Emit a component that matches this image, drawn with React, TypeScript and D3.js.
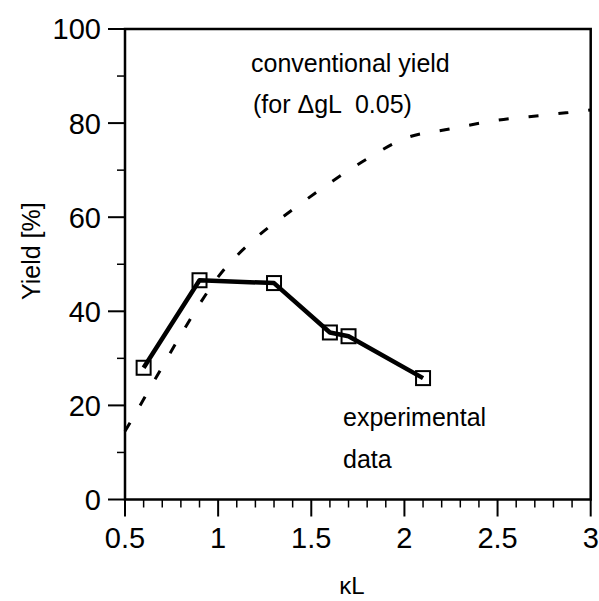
import React from "react";
import * as d3 from "d3";

const expX = [0.6, 0.9, 1.3, 1.6, 1.7, 2.1];
const expY = [28, 46.6, 46.0, 35.5, 34.7, 25.8];

const convX = [0.5, 0.6, 0.7, 0.8, 0.9, 1.0, 1.2, 1.4, 1.6, 1.8, 2.0, 2.25, 2.5, 2.75, 3.0];
const convY = [14.5, 21.3, 28.2, 35, 41.5, 47.3, 55.5, 61.6, 67.3, 72.4, 76.7, 78.8, 80.6, 81.7, 82.8];

const xTicks = [0.5, 1, 1.5, 2, 2.5, 3];
const xTickLabels = ["0.5", "1", "1.5", "2", "2.5", "3"];
const yTicks = [0, 20, 40, 60, 80, 100];
const yMinor = [10, 30, 50, 70, 90];

export default function App() {
  const W = 599, H = 601;
  const left = 125, right = 590.7, top = 29, bottom = 499.5;
  const x = d3.scaleLinear().domain([0.5, 3]).range([left, right]);
  const y = d3.scaleLinear().domain([0, 100]).range([bottom, top]);
  const xMinor = d3.range(5, 31).map((v) => v / 10).filter((v) => Math.abs(v * 2 - Math.round(v * 2)) > 1e-6);

  const conv = convX.map((v, i) => [v, convY[i]] as [number, number]);
  const exp = expX.map((v, i) => [v, expY[i]] as [number, number]);
  const line = d3.line<[number, number]>().x((d) => x(d[0])).y((d) => y(d[1]));
  const convLine = d3.line<[number, number]>().x((d) => x(d[0])).y((d) => y(d[1])).curve(d3.curveMonotoneX);

  const font = "'Liberation Sans', Arial, Helvetica, sans-serif";
  const sq = 14;

  return (
    <svg width={W} height={H} style={{ position: "absolute", left: 0, top: 0, background: "#fff" }} fontFamily={font}>
      <rect x={0} y={0} width={W} height={H} fill="#fff" />
      <path d={convLine(conv) || ""} fill="none" stroke="#000" strokeWidth={3} strokeDasharray="10,20" />
      <path d={line(exp) || ""} fill="none" stroke="#000" strokeWidth={4.5} strokeLinejoin="round" />
      {exp.map((d, i) => (
        <rect key={i} x={x(d[0]) - sq / 2} y={y(d[1]) - sq / 2} width={sq} height={sq} fill="none" stroke="#000" strokeWidth={2} />
      ))}
      <rect x={left} y={top} width={right - left} height={bottom - top} fill="none" stroke="#000" strokeWidth={2.5} />
      {xTicks.map((t, i) => (
        <g key={"xt" + i}>
          <line x1={x(t)} x2={x(t)} y1={bottom} y2={bottom + 17} stroke="#000" strokeWidth={2} />
          <text x={x(t)} y={548} textAnchor="middle" fontSize={29} fill="#000">{xTickLabels[i]}</text>
        </g>
      ))}
      {xMinor.map((t, i) => (
        <line key={"xm" + i} x1={x(t)} x2={x(t)} y1={bottom} y2={bottom + 8} stroke="#000" strokeWidth={1.5} />
      ))}
      {yTicks.map((t, i) => (
        <g key={"yt" + i}>
          <line x1={left - 17} x2={left} y1={y(t)} y2={y(t)} stroke="#000" strokeWidth={2} />
          <text x={101} y={y(t)} dy="0.36em" textAnchor="end" fontSize={29} fill="#000">{String(t)}</text>
        </g>
      ))}
      {yMinor.map((t, i) => (
        <line key={"ym" + i} x1={left - 8} x2={left} y1={y(t)} y2={y(t)} stroke="#000" strokeWidth={1.5} />
      ))}
      <text transform="translate(40,300) rotate(-90)" textAnchor="start" fontSize={25} fill="#000">Yield [%]</text>
      <text x={352} y={594} textAnchor="middle" fontSize={24} fill="#000">κL</text>
      <text x={251} y={72} fontSize={25} fill="#000">conventional yield</text>
      <text x={253} y={113} fontSize={25} fill="#000" style={{ whiteSpace: "pre" }}>(for ΔgL  0.05)</text>
      <text x={343} y={426} fontSize={25} fill="#000">experimental</text>
      <text x={343} y={468} fontSize={25} fill="#000">data</text>
    </svg>
  );
}
